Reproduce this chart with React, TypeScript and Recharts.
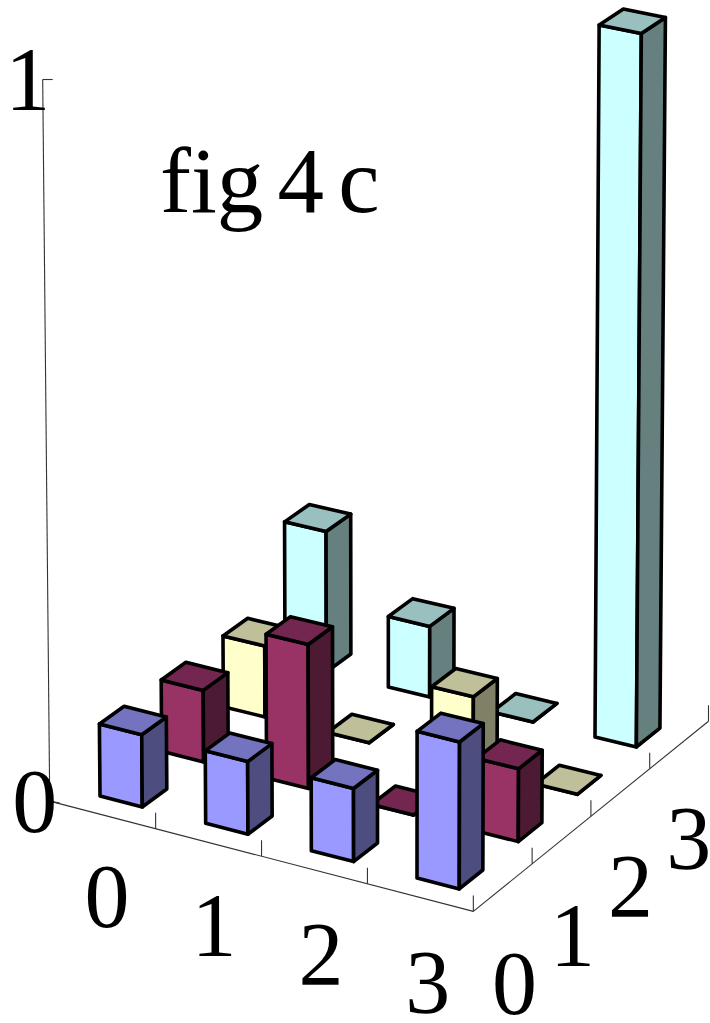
import { ScatterChart, Scatter, XAxis, YAxis, ReferenceLine } from "recharts";

const row0 = [0.1, 0.1, 0.1, 0.2];
const row1 = [0.1, 0.2, 0, 0.1];
const row2 = [0.1, 0, 0.1, 0];
const row3 = [0.2, 0.1, 0, 1];

const colTicks = ["0", "1", "2", "3"];
const rowTicks = ["0", "1", "2", "3"];
const zTicks = [0, 1];
const title = "fig 4 c";

const WIDTH = 710;
const HEIGHT = 1023;
const BAR = 0.4;
const BOX_MIN = -0.3;
const BOX_MAX = 3.7;
const FONT = "'Liberation Serif', serif";
const LABEL_SIZE = 90;

// floor corners of the bar grid
const floor = {
  c00: [100, 796],
  c30: [417, 878],
  c03: [285, 662],
  c33: [595, 737],
};

function project(col: number, row: number, z: number) {
  const u = col / 3;
  const v = row / 3;
  const mix = (i: number) =>
    (1 - u) * (1 - v) * floor.c00[i] +
    u * (1 - v) * floor.c30[i] +
    (1 - u) * v * floor.c03[i] +
    u * v * floor.c33[i];
  const bx = mix(0);
  const by = mix(1);
  // slight perspective: verticals spread out going up
  return {
    x: bx + z * (bx - 393) * 0.0205,
    y: by - z * (712 + 0.15 * (by - 737)),
  };
}

const palettes = [
  { front: "#9999ff", side: "#4d4d80", top: "#7373bf" },
  { front: "#993366", side: "#4d1a33", top: "#732650" },
  { front: "#ffffcc", side: "#808066", top: "#bfbf99" },
  { front: "#ccffff", side: "#668080", top: "#99bfbf" },
];

function Bar3D(props: any) {
  const { cx, cy, payload } = props;
  const { col, row, value } = payload;
  const colors = palettes[row];
  const base = project(col, row, 0);
  const pt = (c: number, r: number, z: number) => {
    const p = project(col + c, row + r, z);
    return `${cx + p.x - base.x},${cy + p.y - base.y}`;
  };
  const shared = { stroke: "#000", strokeWidth: 3.6, strokeLinejoin: "round" as const };
  return (
    <g>
      <polygon
        {...shared}
        fill={colors.front}
        points={[pt(0, 0, 0), pt(BAR, 0, 0), pt(BAR, 0, value), pt(0, 0, value)].join(" ")}
      />
      <polygon
        {...shared}
        fill={colors.side}
        points={[pt(BAR, 0, 0), pt(BAR, BAR, 0), pt(BAR, BAR, value), pt(BAR, 0, value)].join(" ")}
      />
      <polygon
        {...shared}
        fill={colors.top}
        points={[pt(0, 0, value), pt(BAR, 0, value), pt(BAR, BAR, value), pt(0, BAR, value)].join(" ")}
      />
    </g>
  );
}

function Label(props: any) {
  const { cx, cy, payload } = props;
  return (
    <text
      x={cx}
      y={cy}
      textAnchor={payload.anchor ?? "middle"}
      fontFamily={FONT}
      fontSize={payload.size ?? LABEL_SIZE}
      wordSpacing={payload.spacing ?? 0}
      fill="#000"
    >
      {payload.text}
    </text>
  );
}

function barsOf(values: number[], row: number) {
  return values.map((value, col) => {
    const p = project(col, row, 0);
    return { x: p.x, y: p.y, col, row, value };
  });
}

function labelAt(col: number, row: number, z: number, text: string, dx = 0) {
  const p = project(col, row, z);
  // centre of the digit to baseline
  return { x: p.x + dx, y: p.y + LABEL_SIZE * 0.338, text };
}

const labels = [
  ...colTicks.map((t, i) => labelAt(i + 1.0, -1.62, 0, t)),
  ...rowTicks.map((t, i) => labelAt(4.62, i - 1.27, 0, t)),
  ...zTicks.map((z) => labelAt(BOX_MIN, BOX_MIN, z, String(z), -15)),
  { x: 160, y: 212, text: title, anchor: "start", size: 93, spacing: -9 },
];

const axisLines = [
  [project(BOX_MIN, BOX_MIN, 0), project(BOX_MAX, BOX_MIN, 0)],
  [project(BOX_MAX, BOX_MIN, 0), project(BOX_MAX, BOX_MAX, 0)],
  [project(BOX_MIN, BOX_MIN, 0), project(BOX_MIN, BOX_MIN, 1)],
  ...colTicks.map((_, i) => {
    const p = project(i + 0.7, BOX_MIN, 0);
    return [p, { x: p.x, y: p.y - 16 }];
  }),
  ...rowTicks.map((_, i) => {
    const p = project(BOX_MAX, i + 0.7, 0);
    return [p, { x: p.x, y: p.y - 16 }];
  }),
  ...zTicks.map((z) => {
    const p = project(BOX_MIN, BOX_MIN, z);
    return [p, { x: p.x + 10, y: p.y + (z === 0 ? 2 : 0) }];
  }),
];

export default function App() {
  return (
    <div style={{ position: "absolute", left: 0, top: 0, width: WIDTH, height: HEIGHT }}>
      <ScatterChart width={WIDTH} height={HEIGHT} margin={{ top: 0, right: 0, bottom: 0, left: 0 }}>
        <XAxis type="number" dataKey="x" domain={[0, WIDTH]} hide />
        <YAxis type="number" dataKey="y" domain={[0, HEIGHT]} reversed hide />
        {axisLines.map((seg, i) => (
          <ReferenceLine
            key={i}
            segment={seg}
            stroke="#333"
            strokeWidth={1.1}
            ifOverflow="visible"
          />
        ))}
        <Scatter data={barsOf(row3, 3)} shape={Bar3D} isAnimationActive={false} />
        <Scatter data={barsOf(row2, 2)} shape={Bar3D} isAnimationActive={false} />
        <Scatter data={barsOf(row1, 1)} shape={Bar3D} isAnimationActive={false} />
        <Scatter data={barsOf(row0, 0)} shape={Bar3D} isAnimationActive={false} />
        <Scatter data={labels} shape={Label} isAnimationActive={false} />
      </ScatterChart>
    </div>
  );
}
